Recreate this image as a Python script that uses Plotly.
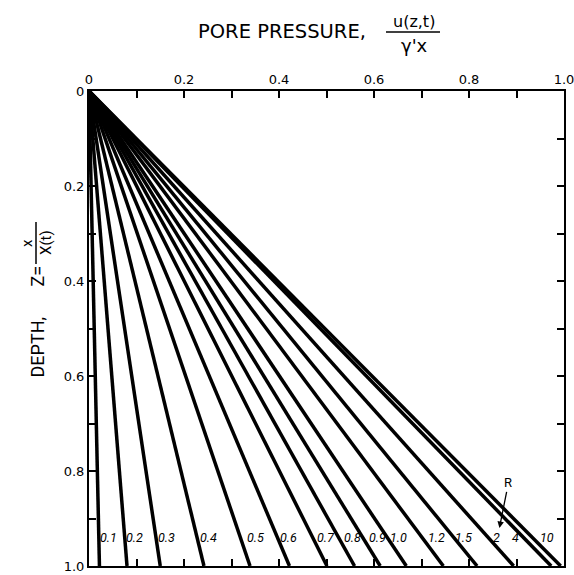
import plotly.graph_objects as go

# Isochrone parameter R and the pore pressure each line reaches at Z = 1
r_labels = ["0.1", "0.2", "0.3", "0.4", "0.5", "0.6", "0.7", "0.8", "0.9",
            "1.0", "1.2", "1.5", "2", "4", "10"]
u_at_base = [0.022, 0.080, 0.150, 0.242, 0.339, 0.422, 0.501, 0.559, 0.613,
             0.668, 0.746, 0.817, 0.894, 0.973, 0.993]

# Where each R label sits along the bottom row
label_u = [0.042, 0.095, 0.164, 0.251, 0.350, 0.419, 0.499, 0.554, 0.607,
           0.651, 0.731, 0.788, 0.858, 0.898, 0.965]
label_z = 0.941

tick_vals = [0.0, 0.1, 0.2, 0.3, 0.4, 0.5, 0.6, 0.7, 0.8, 0.9, 1.0]
tick_text = ["0", "", "0.2", "", "0.4", "", "0.6", "", "0.8", "", "1.0"]

W, H = 574, 575
ML, MR, MT, MB = 89, 10, 91, 9
PW, PH = W - ML - MR, H - MT - MB


def px(x):
    return (x - ML) / PW


def py(y):
    return (H - MB - y) / PH


fig = go.Figure()
for u_end in u_at_base:
    fig.add_trace(go.Scatter(
        x=[0, u_end], y=[0, 1], mode="lines",
        line=dict(color="black", width=3.5),
        hoverinfo="skip", showlegend=False,
    ))

ann = []
for txt, xu in zip(r_labels, label_u):
    ann.append(dict(x=xu, y=label_z, xref="x", yref="y", text=txt,
                    xanchor="center", yanchor="middle", showarrow=False,
                    font=dict(family="Roboto", size=12.5, color="black", style="italic")))

# R marker with arrow
ann.append(dict(x=0.864, y=0.920, xref="x", yref="y",
                ax=0.883, ay=0.825, axref="x", ayref="y",
                text="R", showarrow=True, arrowhead=2, arrowsize=1,
                arrowwidth=1.3, arrowcolor="black",
                font=dict(family="Roboto", size=13, color="black")))


def paper_text(x, y, text, font, angle=0):
    return dict(x=px(x), y=py(y), xref="paper", yref="paper", text=text,
                xanchor="center", yanchor="middle", textangle=angle,
                showarrow=False, font=font)


title_font = dict(family="DejaVu Sans", size=19.5, color="black")
frac_font = dict(family="DejaVu Sans", size=16, color="black")

# Top title with fraction
ann.append(paper_text(281.5, 32, "PORE PRESSURE,", title_font))
ann.append(paper_text(413.5, 21, "u(z,t)", frac_font))
ann.append(paper_text(414.5, 45, "γ'x", dict(family="DejaVu Sans", size=18, color="black")))

# Side title with fraction
side_font = dict(family="Roboto", size=18, color="black")
small_font = dict(family="Roboto", size=15, color="black")
ann.append(paper_text(36.5, 347, "DEPTH,", side_font, -90))
ann.append(paper_text(36.5, 276, "Z=", side_font, -90))
ann.append(paper_text(27, 243, "x", small_font, -90))
ann.append(paper_text(46, 243, "X(t)", small_font, -90))

shapes = [
    dict(type="line", xref="paper", yref="paper",
         x0=px(386), x1=px(440), y0=py(32), y1=py(32),
         line=dict(color="black", width=1.5)),
    dict(type="line", xref="paper", yref="paper",
         x0=px(36), x1=px(36), y0=py(222), y1=py(264),
         line=dict(color="black", width=1.5)),
]

axis_common = dict(
    tickmode="array", tickvals=tick_vals, ticktext=tick_text,
    ticks="inside", ticklen=7, tickwidth=1.5, tickcolor="black",
    showline=True, linecolor="black", linewidth=2, mirror="ticks",
    showgrid=False, zeroline=False, automargin=False,
    ticklabeloverflow="allow",
    tickfont=dict(family="DejaVu Sans", size=13, color="black"),
)

fig.update_layout(
    width=W, height=H,
    margin=dict(l=ML, r=MR, t=MT, b=MB, autoexpand=False),
    paper_bgcolor="white", plot_bgcolor="white",
    xaxis=dict(range=[0, 1], side="top", **axis_common),
    yaxis=dict(range=[1, 0], **axis_common),
    annotations=ann, shapes=shapes,
    showlegend=False,
)

fig.write_html("out.html")
